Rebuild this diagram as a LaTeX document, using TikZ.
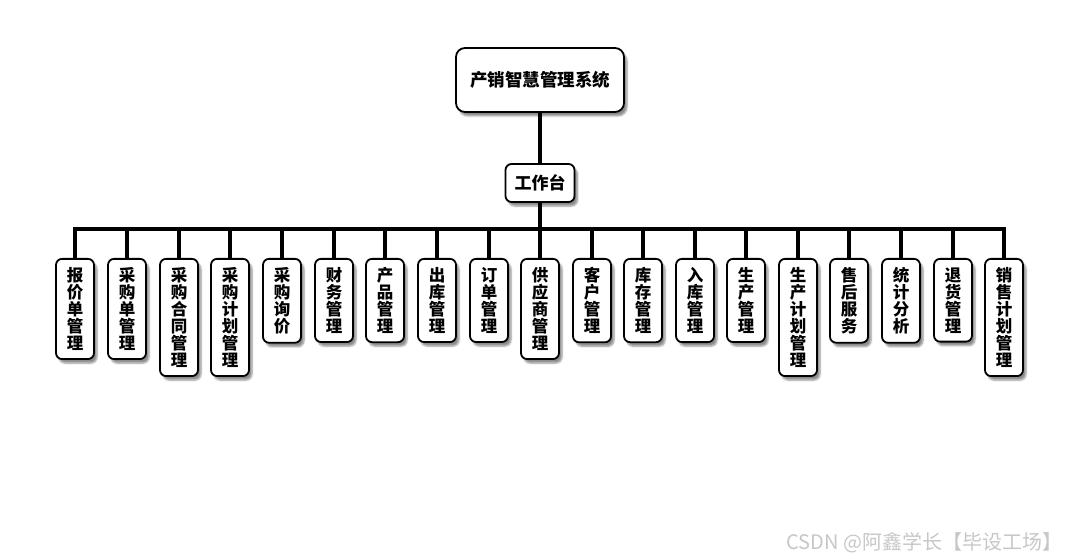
\documentclass[tikz,border=0pt]{standalone}
\usepackage{fontspec}
\newfontfamily\cjk{Noto Sans CJK SC}
\usetikzlibrary{shadows.blur}
\begin{document}
\begin{tikzpicture}[x=1bp,y=-1bp,
  box/.style={draw=black,line width=1.8bp,fill=white,rounded corners=6bp,
    blur shadow={shadow xshift=3bp,shadow yshift=-4bp,shadow blur steps=6,shadow opacity=45}},
  leaf/.style={box,anchor=north,minimum width=38bp,inner xsep=0pt,inner ysep=8.5bp,
    align=center,font=\cjk\bfseries\fontsize{16.5bp}{17bp}\selectfont},
  conn/.style={line width=3.5bp,draw=black}]
\useasboundingbox (0,0) rectangle (1080,560);
\node[box,rounded corners=9bp,minimum width=168bp,minimum height=64bp,font=\cjk\bfseries\fontsize{17.5bp}{19bp}\selectfont] (root) at (540,80) {产销智慧管理系统};
\node[box,minimum width=69bp,minimum height=38bp,font=\cjk\bfseries\fontsize{17bp}{19bp}\selectfont] (w) at (540,183) {工作台};
\coordinate (bar) at (540,229);
\foreach \i/\x/\t in {1/75/报\\价\\单\\管\\理, 2/127/采\\购\\单\\管\\理, 3/179/采\\购\\合\\同\\管\\理, 4/230/采\\购\\计\\划\\管\\理, 5/282/采\\购\\询\\价, 6/334/财\\务\\管\\理, 7/385/产\\品\\管\\理, 8/437/出\\库\\管\\理, 9/489/订\\单\\管\\理, 10/540/供\\应\\商\\管\\理, 11/592/客\\户\\管\\理, 12/643/库\\存\\管\\理, 13/695/入\\库\\管\\理, 14/746/生\\产\\管\\理, 15/798/生\\产\\计\\划\\管\\理, 16/849/售\\后\\服\\务, 17/901/统\\计\\分\\析, 18/953/退\\货\\管\\理, 19/1004/销\\售\\计\\划\\管\\理}{
  \node[leaf] (c\i) at (\x,258) {\t};
  \draw[conn] (c\i.north) |- (bar);
}
\draw[conn] (root.south) -- (w.north);
\draw[conn] (w.south) -- (bar);
\node[text=black!22,font=\cjk\fontsize{20bp}{22bp}\selectfont,anchor=east] (wm) at (1066,543) {CSDN @阿鑫学长【毕设工场】};
\end{tikzpicture}
\end{document}
